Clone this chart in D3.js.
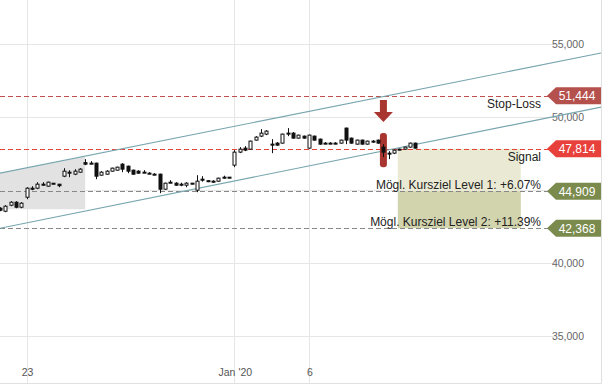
<!DOCTYPE html>
<html>
<head>
<meta charset="utf-8">
<script src="https://cdn.jsdelivr.net/npm/d3@7"></script>
<style>
  body { margin: 0; background: #fff; }
  text { font-family: "Liberation Sans", Arial, sans-serif; }
</style>
</head>
<body>
<div id="chart"></div>
<script>
// candle data (intraday bars, index based)
var opens  = [43736,43530,43943,44149,43805,44492,45110,45110,45385,45248,45450,45385,45934,46209,46072,46209,46862,46827,46827,46003,
              46072,46278,46346,46758,46621,46346,46278,46209,46140,46072,46072,45042,45522,45454,45385,45316,45454,44973,45728,45625,
              45591,45591,45866,45866,46690,47583,47857,47789,48407,48681,48819,48132,48201,48201,48887,48887,48544,48681,47857,48681,
              48475,48201,48201,48201,48201,49231,48544,48132,48407,48132,48338,48407,47926,47514,47514,47789,47789,47926,48201];
var highs  = [43805,43943,44217,44217,44149,45179,45248,45522,45522,45557,45470,45400,46484,46346,46415,46484,47102,46965,46862,46278,
              46346,46518,46587,46827,46656,46381,46346,46346,46209,46140,46106,45488,45660,45522,45488,45522,45470,46003,45934,45660,
              45660,45831,45969,45880,47720,47926,47995,48372,48681,49162,49094,48475,48269,48853,49231,48956,48784,48716,48784,48716,
              48510,48269,48269,48269,48441,49265,48578,48441,48441,48372,48407,48441,48132,47651,47754,47823,47960,48235,48235];
var lows   = [43530,43462,43874,43736,43736,44354,44973,45042,45282,45213,45410,45179,45866,45866,46003,46175,46690,46758,45728,45969,
              46037,46243,46312,46209,46140,46037,46106,46175,46106,46003,44767,45007,45454,45282,45248,45179,45385,44836,45557,45522,
              45488,45557,45763,45797,46552,47514,47651,47754,48372,48613,48750,47514,48029,48166,48681,48510,48510,48510,47823,48372,
              48098,48132,48132,48132,48166,48132,48166,48098,48098,48098,48235,48166,47240,47102,47446,47720,47754,47892,47823];
var closes = [43599,43874,44149,43805,44080,45110,45076,45385,45316,45522,45420,45282,46278,46175,46278,46415,46758,46793,45934,46209,
              46278,46484,46552,46415,46278,46072,46140,46175,46106,46037,45042,45454,45488,45316,45351,45454,45419,45591,45694,45557,
              45557,45797,45831,45831,47583,47789,47720,48338,48613,48887,49025,48098,48063,48819,48853,48544,48750,48544,48750,48407,
              48132,48166,48166,48166,48407,48407,48201,48407,48132,48338,48304,48201,47583,47480,47720,47754,47926,48201,47857];

// x axis
var tickIdx = [5, 44, 58];
var tickLabels = ["23", "Jan '20", "6"];
var yTicks = [35000, 40000, 45000, 50000, 55000];
var yTickLabels = [35000, 40000, 50000, 55000];

// trade levels
var levelValues = [51444, 47814, 44909, 42368];
var levelNames = ["Stop-Loss", "Signal", "Mögl. Kursziel Level 1: +6.07%", "Mögl. Kursziel Level 2: +11.39%"];

// trend channel [idx, upper, lower]
var channelStart = [0, 46140, 42363];
var channelEnd = [112.86, 54382, 50673];

// shaded formation and target zone
var shadeEndIdx = 16;
var shadeFloor = 43670;
var signalIdx = 72;
var signalBar = [48890, 46550];
var targetIdx = [74.7, 97.8];

var width = 615, height = 387;
var plotRight = 601, plotBottom = 383;

var svg = d3.select("#chart")
  .append("svg")
  .attr("width", width)
  .attr("height", height);

var x = d3.scaleLinear()
  .domain([0, channelEnd[0]])
  .range([0, plotRight]);

var y = d3.scaleLinear()
  .domain([35000, 55000])
  .range([335.6, 44]);

function px(v) { return Math.round(v) + 0.5; }

// grid
svg.append("g")
  .selectAll("line")
  .data(yTicks)
  .enter()
  .append("line")
  .attr("x1", 0)
  .attr("x2", 555)
  .attr("y1", function(d) { return px(y(d)); })
  .attr("y2", function(d) { return px(y(d)); })
  .style("stroke", "#e6e6e6");

svg.append("g")
  .selectAll("line")
  .data(tickIdx)
  .enter()
  .append("line")
  .attr("x1", function(d) { return px(x(d)); })
  .attr("x2", function(d) { return px(x(d)); })
  .attr("y1", 0)
  .attr("y2", plotBottom)
  .style("stroke", "#e6e6e6");

// plot border
svg.append("path")
  .attr("d", "M" + px(plotRight) + ",0V" + px(plotBottom) + "H0")
  .style("fill", "none")
  .style("stroke", "#e0e0e0");

// grey formation shade
var upperAt = function(i) {
  return channelStart[1] + (channelEnd[1] - channelStart[1]) * (i - channelStart[0]) / (channelEnd[0] - channelStart[0]);
};
svg.append("path")
  .attr("d", d3.line()([
    [x(0), y(upperAt(0))],
    [x(shadeEndIdx), y(upperAt(shadeEndIdx))],
    [x(shadeEndIdx), y(shadeFloor)],
    [x(0), y(shadeFloor)]
  ]) + "Z")
  .style("fill", "#e2e2e2");

// target zones
var zoneColors = ["#eaead4", "#d2d4ae"];
[[levelValues[1], levelValues[2]], [levelValues[2], levelValues[3]]].forEach(function(z, i) {
  svg.append("rect")
    .attr("x", x(targetIdx[0]))
    .attr("width", x(targetIdx[1]) - x(targetIdx[0]))
    .attr("y", y(z[0]))
    .attr("height", y(z[1]) - y(z[0]))
    .style("fill", zoneColors[i]);
});

// y labels
svg.append("g")
  .selectAll("text")
  .data(yTickLabels)
  .enter()
  .append("text")
  .attr("x", 584)
  .attr("y", function(d) { return y(d) + 4; })
  .style("text-anchor", "end")
  .style("font-size", "10.5px")
  .style("fill", "#666")
  .text(d3.format(","));

// x labels
svg.append("g")
  .selectAll("text")
  .data(tickIdx)
  .enter()
  .append("text")
  .attr("x", function(d) { return x(d) + 1; })
  .attr("y", 376)
  .style("text-anchor", "middle")
  .style("font-size", "10.5px")
  .style("fill", "#555")
  .text(function(d, i) { return tickLabels[i]; });

// level lines
var lineColors = ["#c0504d", "#e8403b", "#888", "#888"];
levelValues.forEach(function(v, i) {
  svg.append("line")
    .attr("x1", 0)
    .attr("x2", 550)
    .attr("y1", px(y(v)))
    .attr("y2", px(y(v)))
    .style("stroke", lineColors[i])
    .style("stroke-dasharray", "5,3");
});

// channel
var channel = svg.append("g");
[1, 2].forEach(function(k) {
  channel.append("line")
    .attr("x1", x(channelStart[0]))
    .attr("y1", y(channelStart[k]))
    .attr("x2", x(channelEnd[0]))
    .attr("y2", y(channelEnd[k]))
    .style("stroke", "#78a6ae")
    .style("stroke-width", 1.1);
});

// signal highlight and arrow
var sx = x(signalIdx);
svg.append("rect")
  .attr("x", sx - 3.5)
  .attr("width", 7)
  .attr("y", y(signalBar[0]))
  .attr("height", y(signalBar[1]) - y(signalBar[0]))
  .attr("rx", 3)
  .style("fill", "#a8352f");

var ay = y(signalBar[0]) - 33;
svg.append("path")
  .attr("d", "M" + (sx - 3.5) + "," + ay + "h7v12h6l-9.5,10l-9.5,-10h6z")
  .style("fill", "#a8352f");

// candles
var candles = svg.append("g");
opens.forEach(function(o, i) {
  var c = closes[i];
  var cx = px(x(i));
  candles.append("line")
    .attr("x1", cx).attr("x2", cx)
    .attr("y1", y(highs[i]))
    .attr("y2", y(lows[i]))
    .style("stroke", "#111");
  var top = y(Math.max(o, c)), bot = y(Math.min(o, c));
  candles.append("rect")
    .attr("x", cx - 1.5)
    .attr("width", 3)
    .attr("y", top)
    .attr("height", Math.max(bot - top, 1))
    .style("fill", c >= o ? "#fff" : "#111")
    .style("stroke", "#111")
    .style("stroke-width", 1);
});

// level labels
levelValues.forEach(function(v, i) {
  svg.append("text")
    .attr("x", 541)
    .attr("y", i < 2 ? y(v) + 12.5 : y(v) - 2)
    .style("text-anchor", "end")
    .style("font-size", "12px")
    .style("fill", "#222")
    .text(levelNames[i]);
});

// price badges
var badgeColors = ["#b5514d", "#e8403b", "#7b8b4e", "#7b8b4e"];
levelValues.forEach(function(v, i) {
  var yc = y(v);
  svg.append("path")
    .attr("d", "M547," + yc + "L556," + (yc - 8.5) + "H601V" + (yc + 8.5) + "H556Z")
    .style("fill", badgeColors[i]);
  svg.append("text")
    .attr("x", 577)
    .attr("y", yc + 4.5)
    .style("text-anchor", "middle")
    .style("font-size", "12px")
    .style("fill", "#fff")
    .text(d3.format(",")(v));
});
</script>
</body>
</html>
